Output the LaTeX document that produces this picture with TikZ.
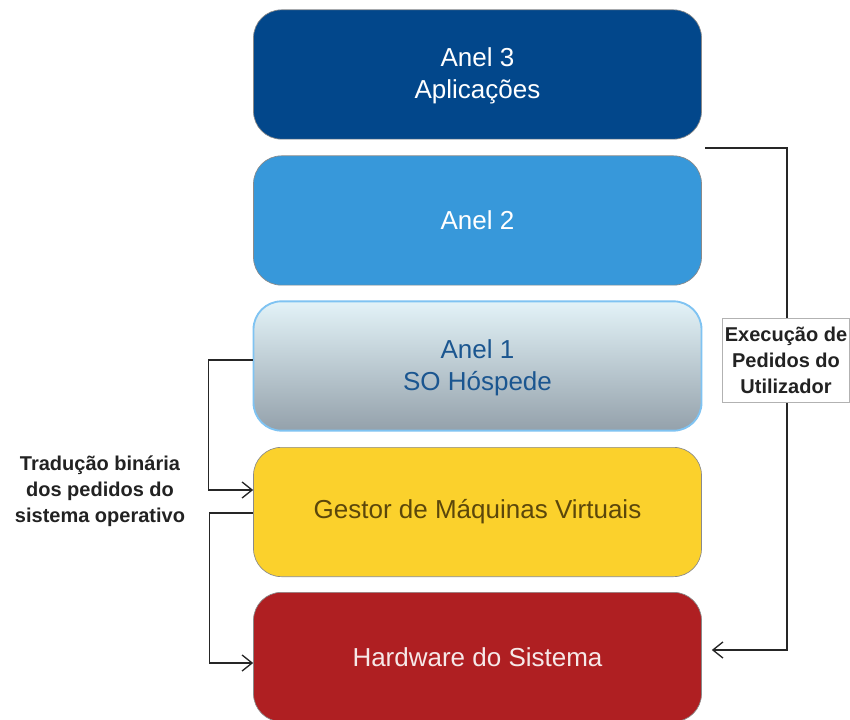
\documentclass[tikz,border=0pt]{standalone}
\usepackage{fontspec}
\setmainfont{Liberation Sans}
\usetikzlibrary{arrows.meta,calc}

\definecolor{ringthree}{HTML}{02478B}
\definecolor{ringtwo}{HTML}{3798DA}
\definecolor{ringonetop}{HTML}{E3F3F8}
\definecolor{ringonebot}{HTML}{94A1AB}
\definecolor{ringoneedge}{HTML}{7FC3F2}
\definecolor{ringonetext}{HTML}{1B5690}
\definecolor{vmmfill}{HTML}{FBD12C}
\definecolor{vmmtext}{HTML}{5B470B}
\definecolor{hwfill}{HTML}{AF1F22}
\definecolor{hwtext}{HTML}{F6E8E8}
\definecolor{boxedge}{HTML}{8A8A8A}
\definecolor{inktext}{HTML}{222222}

\tikzset{
  layer/.style={rounded corners=21pt, minimum width=336pt, minimum height=97pt,
    draw=boxedge, line width=0.5pt, align=center, inner sep=0pt,
    font=\fontsize{19.5}{24}\selectfont},
  layertext/.style={align=center, font=\fontsize{19.5}{24}\selectfont},
  link/.style={draw=black!85, line width=1pt,
    -{Straight Barb[length=7.5pt,width=12pt]}},
  note/.style={align=center, text=inktext,
    font=\bfseries\fontsize{15}{19.5}\selectfont},
  notebox/.style={note, draw=black!30, line width=0.6pt, fill=white,
    minimum width=95pt, minimum height=63pt, inner sep=1pt}
}

\begin{document}
\begin{tikzpicture}[x=0.75pt,y=-0.75pt]
\useasboundingbox (0,0) rectangle (850,720);
\clip (0,0) rectangle (850,720);
\fill[white] (0,0) rectangle (850,720);

% protection rings, top to bottom
\node[layer, fill=ringthree] (r3) at (477.5,74.5) {};
\node[layertext, text=white] (r3txt) at ($(r3.center)+(0,1.5)$) {Anel 3\\Aplicações};
\node[layer, fill=ringtwo, text=white] (r2) at (477.5,220.5) {Anel 2};
\node[layer, top color=ringonetop, bottom color=ringonebot,
      draw=ringoneedge, line width=1.4pt] (r1) at (477.5,366) {};
\node[layertext, text=ringonetext] (r1txt) at ($(r1.center)+(0,1.5)$) {Anel 1\\SO Hóspede};
\node[layer, fill=vmmfill, text=vmmtext] (vmm) at (477.5,512) {Gestor de Máquinas Virtuais};
\node[layer, fill=hwfill, text=hwtext] (hw) at (477.5,657) {Hardware do Sistema};

% binary translation path on the left
\draw[link] ($(r1.west)+(0,-6)$) -- ++(-44,0) |- ($(vmm.west)+(0,-22)$);
\draw[link] ($(vmm.west)+(0,1)$) -- ++(-44,0) |- ($(hw.west)+(0,6)$);
\node[note] (translbl) at (100,491) {Tradução binária\\dos pedidos do\\sistema operativo};

% direct execution path on the right
\coordinate (execstart) at (705,148);
\draw[link] (execstart) -- (787,148) |- ($(hw.east)+(10,-7)$);
\node[notebox] (execlbl) at (786,360) {Execução de\\Pedidos do\\Utilizador};
\end{tikzpicture}
\end{document}
